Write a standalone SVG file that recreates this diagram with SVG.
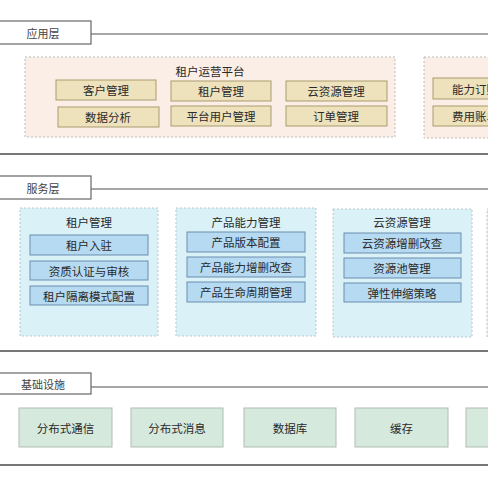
<svg xmlns="http://www.w3.org/2000/svg" width="488" height="488" viewBox="0 0 488 488">
<style>
text{font-family:"Noto Sans CJK SC","Noto Sans",sans-serif;text-anchor:middle;dominant-baseline:central;fill:#2a2a2a}
.tab{fill:#fff;stroke:#666;stroke-width:1.2}
.tabt{font-size:11px;fill:#444}
.hline{stroke:#8a8a8a;stroke-width:1.5}
.bline{stroke:#777;stroke-width:2}
.oc{fill:#fbeee6;stroke:#bbb;stroke-width:1;stroke-dasharray:2 2}
.ob{fill:#eee2bd;stroke:#a99b6c;stroke-width:1}
.bc{fill:#daf1f8;stroke:#b5c8cf;stroke-width:1;stroke-dasharray:2 2}
.bb{fill:#b6daf2;stroke:#6a8eae;stroke-width:1}
.gb{fill:#d6e9dd;stroke:#b0bdb3;stroke-width:1}
.t12{font-size:11.5px}
</style>
<rect width="488" height="488" fill="#fff"/>
<g id="connectors">
<line class="hline" x1="91" y1="34" x2="488" y2="34"/>
<line class="bline" x1="0" y1="154" x2="488" y2="154"/>
<line class="hline" x1="91" y1="189" x2="488" y2="189"/>
<line class="bline" x1="0" y1="351" x2="488" y2="351"/>
<line class="hline" x1="91" y1="387" x2="488" y2="387"/>
<line class="bline" x1="0" y1="465" x2="488" y2="465"/>
</g>
<g id="tab-app"><rect class="tab" x="-2" y="21" width="93" height="23"/><text class="tabt" x="43" y="32.5">应用层</text></g>
<g id="tab-svc"><rect class="tab" x="-2" y="176" width="93" height="23"/><text class="tabt" x="43" y="187.5">服务层</text></g>
<g id="tab-infra"><rect class="tab" x="-2" y="373" width="93" height="21"/><text class="tabt" x="43" y="383.5">基础设施</text></g>
<g id="tenant-platform">
<rect class="oc" x="25" y="57" width="370" height="80"/>
<text class="t12" x="210" y="71">租户运营平台</text>
</g>
<g id="n-kehu"><rect class="ob" x="56" y="80" width="100" height="20"/><text class="t12" x="106" y="90">客户管理</text></g>
<g id="n-zuhu"><rect class="ob" x="171" y="81" width="100" height="20"/><text class="t12" x="221" y="91">租户管理</text></g>
<g id="n-yunziyuan"><rect class="ob" x="286" y="81" width="101" height="20"/><text class="t12" x="336" y="91">云资源管理</text></g>
<g id="n-shuju"><rect class="ob" x="58" y="107" width="101" height="20"/><text class="t12" x="108" y="117">数据分析</text></g>
<g id="n-pingtai"><rect class="ob" x="171" y="106" width="100" height="20"/><text class="t12" x="221" y="116">平台用户管理</text></g>
<g id="n-dingdan"><rect class="ob" x="286" y="106" width="101" height="20"/><text class="t12" x="336" y="116">订单管理</text></g>
<g id="right-platform">
<rect class="oc" x="424" y="57" width="70" height="81"/>
</g>
<g id="n-nengli"><rect class="ob" x="433" y="78" width="70" height="21"/><text class="t12" x="475" y="88.5">能力订购</text></g>
<g id="n-feiyong"><rect class="ob" x="433" y="106" width="70" height="20"/><text class="t12" x="475" y="116">费用账单</text></g>
<g id="svc-tenant">
<rect class="bc" x="20" y="208" width="138" height="128"/>
<text class="t12" x="89" y="222">租户管理</text>
</g>
<g id="n-ruzhu"><rect class="bb" x="30" y="235" width="118" height="20"/><text class="t12" x="89" y="245">租户入驻</text></g>
<g id="n-zizhi"><rect class="bb" x="30" y="261" width="118" height="19"/><text class="t12" x="89" y="270.5">资质认证与审核</text></g>
<g id="n-geli"><rect class="bb" x="30" y="286" width="118" height="19"/><text class="t12" x="89" y="295.5">租户隔离模式配置</text></g>
<g id="svc-product">
<rect class="bc" x="176" y="208" width="140" height="128"/>
<text class="t12" x="246" y="222">产品能力管理</text>
</g>
<g id="n-banben"><rect class="bb" x="187" y="232" width="118" height="20"/><text class="t12" x="246" y="242">产品版本配置</text></g>
<g id="n-zengshan"><rect class="bb" x="187" y="257" width="118" height="20"/><text class="t12" x="246" y="267">产品能力增删改查</text></g>
<g id="n-shengming"><rect class="bb" x="187" y="282" width="118" height="20"/><text class="t12" x="246" y="292">产品生命周期管理</text></g>
<g id="svc-cloud">
<rect class="bc" x="333" y="209" width="139" height="128"/>
<text class="t12" x="402" y="222">云资源管理</text>
</g>
<g id="n-yunzs"><rect class="bb" x="344" y="233" width="117" height="20"/><text class="t12" x="402" y="243">云资源增删改查</text></g>
<g id="n-ziyuanchi"><rect class="bb" x="344" y="258" width="117" height="20"/><text class="t12" x="402" y="268">资源池管理</text></g>
<g id="n-tanxing"><rect class="bb" x="344" y="283" width="117" height="19"/><text class="t12" x="402" y="292.5">弹性伸缩策略</text></g>
<g id="svc-more"><rect class="bc" x="487" y="209" width="20" height="128"/></g>
<g id="n-tongxin"><rect class="gb" x="19" y="408" width="93" height="39"/><text class="t12" x="65.5" y="427.5">分布式通信</text></g>
<g id="n-xiaoxi"><rect class="gb" x="131" y="408" width="92" height="39"/><text class="t12" x="177" y="427.5">分布式消息</text></g>
<g id="n-shujuku"><rect class="gb" x="244" y="408" width="92" height="39"/><text class="t12" x="290" y="427.5">数据库</text></g>
<g id="n-huancun"><rect class="gb" x="355" y="408" width="93" height="39"/><text class="t12" x="401.5" y="427.5">缓存</text></g>
<g id="n-infra-more"><rect class="gb" x="466" y="408" width="40" height="39"/></g>
</svg>
